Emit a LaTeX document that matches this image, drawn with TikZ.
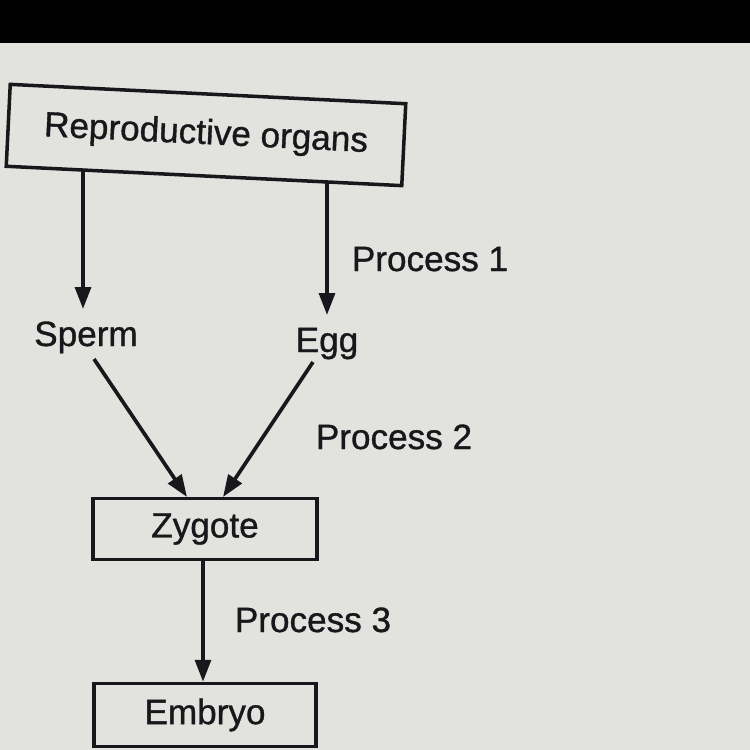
\documentclass[tikz,border=0pt]{standalone}
\usepackage{fontspec}
\setmainfont[FakeBold=1]{Liberation Sans}
\usetikzlibrary{arrows.meta}
\definecolor{paper}{HTML}{E2E2DE}
\definecolor{ink}{HTML}{18181C}
\begin{document}
\begin{tikzpicture}[x=0.02cm,y=-0.02cm,
  lbl/.style={inner sep=0pt,font=\fontsize{20}{24}\selectfont,text=ink},
  boxnode/.style={draw=ink,line width=2pt,fill=paper,inner sep=0pt,font=\fontsize{20}{24}\selectfont,text=ink},
  arr/.style={draw=ink,line width=2.1pt,-{Triangle[length=12.5pt,width=9pt]}}]
\useasboundingbox (0,0) rectangle (750,750);
\fill[paper] (0,0) rectangle (750,750);
\fill[black] (0,0) rectangle (750,43);
% top box
\node[boxnode,rotate=-2.8,minimum width=396*0.02cm,minimum height=82*0.02cm] (ro) at (206,135) {Reproductive organs};
% labels
\node[lbl,anchor=base] (sperm) at (86,346) {Sperm};
\node[lbl,anchor=base] (egg) at (327,352) {Egg};
\node[lbl,anchor=base] (p1) at (430,271) {Process 1};
\node[lbl,anchor=base] (p2) at (394,449) {Process 2};
\node[lbl,anchor=base] (p3) at (313,632) {Process 3};
% lower boxes
\node[boxnode,minimum width=224*0.02cm,minimum height=61*0.02cm] (zyg) at (205,529) {Zygote};
\node[boxnode,minimum width=222*0.02cm,minimum height=63*0.02cm] (emb) at (205,715) {Embryo};
% connector end points
\coordinate (s0) at (83,170);
\coordinate (s1) at (83,309);
\coordinate (e0) at (327,183);
\coordinate (e1) at (327,315);
\coordinate (sa) at (94,359);
\coordinate (sb) at (187,497);
\coordinate (ea) at (313,362);
\coordinate (eb) at (223,497);
% connectors
\draw[arr] (s0) -- (s1);
\draw[arr] (e0) -- (e1);
\draw[arr] (sa) -- (sb);
\draw[arr] (ea) -- (eb);
\draw[arr] (zyg.south -| 203,0) -- (emb.north -| 203,0);
\end{tikzpicture}
\end{document}
